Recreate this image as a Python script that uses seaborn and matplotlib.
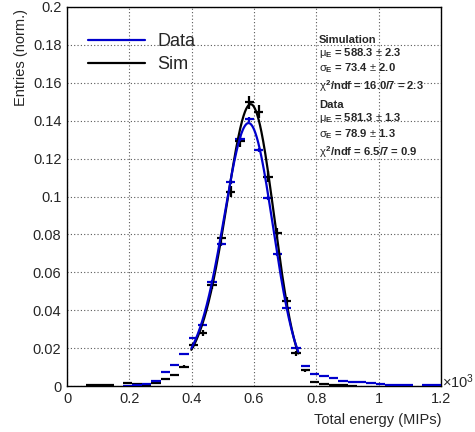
import numpy as np
import pandas as pd
import matplotlib
matplotlib.use("Agg")
import matplotlib.pyplot as plt
import seaborn as sns
from matplotlib.lines import Line2D

# %% data (energy in units of 10^3 MIPs)
bin_centers = np.arange(40) * 0.03 + 0.015
nan = np.nan

data_vals = [nan, nan, nan, nan, nan, nan, 0.0002, 0.0006, 0.0009, 0.0028,
             0.0072, 0.0109, 0.0167, 0.0255, 0.0322, 0.0549, 0.0749, 0.1075, 0.1305, 0.1407,
             0.1245, 0.0990, 0.0695, 0.0410, 0.0202, 0.0107, 0.0063, 0.0055, 0.0043, 0.0028,
             0.0023, 0.0019, 0.0014, 0.0011, 0.0005, 0.0004, 0.0004, nan, 0.0003, 0.0003]
data_errs = [0, 0, 0, 0, 0, 0, 0.0001, 0.0001, 0.0001, 0.0002,
             0.0003, 0.0004, 0.0005, 0.0006, 0.0006, 0.0008, 0.0010, 0.0011, 0.0013, 0.0013,
             0.0012, 0.0011, 0.0009, 0.0007, 0.0005, 0.0004, 0.0003, 0.0003, 0.0002, 0.0002,
             0.0002, 0.0002, 0.0001, 0.0001, 0.0001, 0.0001, 0.0001, 0, 0.0001, 0.0001]

sim_vals = [nan, nan, 0.0003, 0.0005, 0.0007, nan, 0.0014, 0.0008, 0.0005, 0.0014,
            0.0037, 0.0058, 0.0102, 0.0216, 0.0278, 0.0533, 0.0779, 0.1025, 0.1293, 0.1497,
            0.1448, 0.1105, 0.0809, 0.0449, 0.0172, 0.0083, 0.0020, 0.0009, 0.0006, 0.0004,
            0.0002, nan, nan, nan, nan, nan, nan, nan, nan, nan]
sim_errs = [0, 0, 0.0002, 0.0002, 0.0003, 0, 0.0004, 0.0003, 0.0002, 0.0003,
            0.0006, 0.0007, 0.0009, 0.0013, 0.0015, 0.0021, 0.0025, 0.0029, 0.0032, 0.0035,
            0.0034, 0.0030, 0.0026, 0.0019, 0.0012, 0.0008, 0.0004, 0.0003, 0.0002, 0.0002,
            0.0001, 0, 0, 0, 0, 0, 0, 0, 0, 0]

# fit curves, points
data_fit_x = [0.399, 0.428, 0.468, 0.5216, 0.555, 0.581, 0.615, 0.645, 0.675, 0.705, 0.742]
data_fit_y = [0.0199, 0.0313, 0.0559, 0.1087, 0.130, 0.1386, 0.126, 0.100, 0.0705, 0.041, 0.018]
sim_fit_x = [0.399, 0.428, 0.468, 0.522, 0.555, 0.588, 0.615, 0.645, 0.675, 0.705, 0.742]
sim_fit_y = [0.019, 0.030, 0.054, 0.105, 0.134, 0.151, 0.141, 0.112, 0.077, 0.0435, 0.0172]

stats_lines = ["Simulation",
               r"$\mu_{\mathbf{E}}$ = 588.3 $\pm$ 2.3",
               r"$\sigma_{\mathbf{E}}$ = 73.4 $\pm$ 2.0",
               r"$\chi^{\mathbf{2}}$/ndf = 16.0/7 = 2.3",
               "Data",
               r"$\mu_{\mathbf{E}}$ = 581.3 $\pm$ 1.3",
               r"$\sigma_{\mathbf{E}}$ = 78.9 $\pm$ 1.3",
               r"$\chi^{\mathbf{2}}$/ndf = 6.5/7 = 0.9"]
stats_y_px = [40, 53, 68, 86, 105, 118, 134, 152]


def smooth_curve(xs, ys, mu):
    # smooth line through read points (quartic in log space)
    xs = np.asarray(xs)
    coef = np.polyfit(xs - mu, np.log(ys), 4)
    xf = np.linspace(xs[0], xs[-1], 300)
    return pd.DataFrame({"x": xf, "y": np.exp(np.polyval(coef, xf - mu))})


# %% style
sns.set_theme(style="white")
plt.rcParams["font.family"] = ["Liberation Sans", "DejaVu Sans"]
plt.rcParams["mathtext.fontset"] = "custom"
plt.rcParams["mathtext.rm"] = "Liberation Sans"
plt.rcParams["mathtext.it"] = "Liberation Sans"
plt.rcParams["mathtext.bf"] = "Liberation Sans:bold"

W, H = 475, 432
fig = plt.figure(figsize=(W / 100, H / 100), dpi=100)
ax = fig.add_axes([67 / W, 1 - 386 / H, (441 - 67) / W, (386 - 7) / H])

# %% plot
sim_curve = smooth_curve(sim_fit_x, sim_fit_y, 0.588)
data_curve = smooth_curve(data_fit_x, data_fit_y, 0.581)

ax.errorbar(bin_centers, sim_vals, yerr=sim_errs, xerr=0.015, fmt="none",
            ecolor="black", elinewidth=1.6, capsize=0, zorder=3)
ax.errorbar(bin_centers, data_vals, yerr=data_errs, xerr=0.015, fmt="none",
            ecolor="#0000cc", elinewidth=1.6, capsize=0, zorder=4)
sns.lineplot(data=sim_curve, x="x", y="y", color="black", lw=1.6, ax=ax, zorder=5)
sns.lineplot(data=data_curve, x="x", y="y", color="#0000cc", lw=1.6, ax=ax, zorder=6)

ax.set_xlim(0, 1.2)
ax.set_ylim(0, 0.2)
ax.set_xticks(np.arange(0, 1.21, 0.2))
ax.set_xticklabels(["0", "0.2", "0.4", "0.6", "0.8", "1", "1.2"])
ax.set_yticks(np.arange(0, 0.201, 0.02))
ax.set_yticklabels(["0", "0.02", "0.04", "0.06", "0.08", "0.1", "0.12", "0.14",
                    "0.16", "0.18", "0.2"])
ax.set_xticks(np.arange(0, 1.201, 0.05), minor=True)
ax.set_yticks(np.arange(0, 0.2001, 0.004), minor=True)
ax.tick_params(which="both", direction="in", top=False, right=False,
               labelsize=10.5, color="black", width=0.9)
ax.tick_params(which="major", length=8, pad=4)
ax.tick_params(which="minor", length=4)
ax.grid(True, which="major", color="0.35", ls=(0, (1, 2)), lw=0.8)
for s in ax.spines.values():
    s.set_color("black")
    s.set_linewidth(1.0)

ax.set_xlabel("Total energy (MIPs)", fontsize=10.5, ha="right", x=1.0)
ax.set_ylabel("Entries (norm.)", fontsize=10.5, ha="right", y=1.0)
ax.xaxis.set_label_coords(1.0, -0.072)
ax.yaxis.set_label_coords(-0.105, 0.995)
ax.text(1.004, 0.012, r"$\times10^{3}$", transform=ax.transAxes,
        fontsize=10.5, ha="left", va="center")

# legend
handles = [Line2D([], [], color="#0000cc", lw=1.6), Line2D([], [], color="black", lw=1.6)]
ax.legend(handles, ["Data", "Sim"], loc="upper left", bbox_to_anchor=(0.036, 0.95),
          frameon=False, fontsize=13, handlelength=3.2, handletextpad=0.65,
          labelspacing=0.33, borderaxespad=0)

for txt, ypx in zip(stats_lines, stats_y_px):
    fig.text(319 / W, 1 - ypx / H, txt, fontsize=8.1, fontweight="bold",
             ha="left", va="center")

fig.savefig("out.png", dpi=100)
